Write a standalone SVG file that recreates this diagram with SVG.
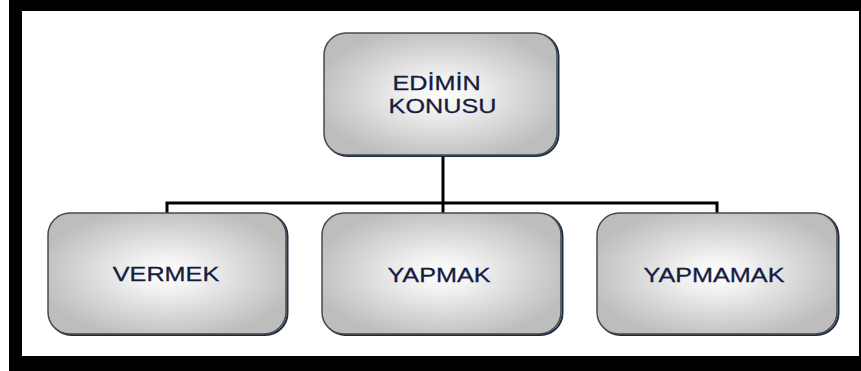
<svg xmlns="http://www.w3.org/2000/svg" width="861" height="371" viewBox="0 0 861 371">
  <style>
    .box { fill: url(#boxFill); stroke: #4a4a4a; stroke-width: 1.5; }
    .shadow { fill: none; stroke: #1d2c48; stroke-width: 2; }
    .lbl { font-family: "Liberation Sans", Arial, sans-serif; font-size: 21px; fill: #161c40; stroke: #161c40; stroke-width: 0.3; text-anchor: middle; }
    .wire { fill: none; stroke: #000; stroke-width: 3; }
  </style>
  <defs>
    <radialGradient id="boxFill" cx="0.5" cy="0.5" r="0.55">
      <stop offset="0" stop-color="#ffffff"/>
      <stop offset="0.25" stop-color="#f2f2f2"/>
      <stop offset="1" stop-color="#bdbdbd"/>
    </radialGradient>
  </defs>

  <!-- frame -->
  <rect x="0" y="0" width="861" height="371" fill="#ffffff"/>
  <path d="M9 0 H861 V371 H9 Z M22 11 V356 H859 V11 Z" fill="#000" fill-rule="evenodd"/>

  <!-- connectors -->
  <g id="connectors">
    <path class="wire" d="M443 155 V203"/>
    <path class="wire" d="M167 213 V203 H717 V213"/>
    <path class="wire" d="M443 203 V213"/>
  </g>

  <g id="node-edimin">
    <rect class="shadow" x="325.5" y="34" width="233" height="122" rx="22"/>
    <rect class="box" x="324" y="33" width="233" height="122" rx="22"/>
    <text class="lbl" transform="translate(436.5 90) scale(1.2 1)">EDİMİN</text>
    <text class="lbl" transform="translate(442.5 113) scale(1.2 1)">KONUSU</text>
  </g>

  <g id="node-vermek">
    <rect class="shadow" x="49.5" y="214" width="238" height="121" rx="22"/>
    <rect class="box" x="48" y="213" width="238" height="121" rx="22"/>
    <text class="lbl" transform="translate(166 281) scale(1.2 1)">VERMEK</text>
  </g>

  <g id="node-yapmak">
    <rect class="shadow" x="323.5" y="214" width="239" height="121" rx="22"/>
    <rect class="box" x="322" y="213" width="239" height="121" rx="22"/>
    <text class="lbl" transform="translate(439 282) scale(1.2 1)">YAPMAK</text>
  </g>

  <g id="node-yapmamak">
    <rect class="shadow" x="598.5" y="214" width="240" height="121" rx="22"/>
    <rect class="box" x="597" y="213" width="240" height="121" rx="22"/>
    <text class="lbl" transform="translate(714 282) scale(1.2 1)">YAPMAMAK</text>
  </g>
</svg>
